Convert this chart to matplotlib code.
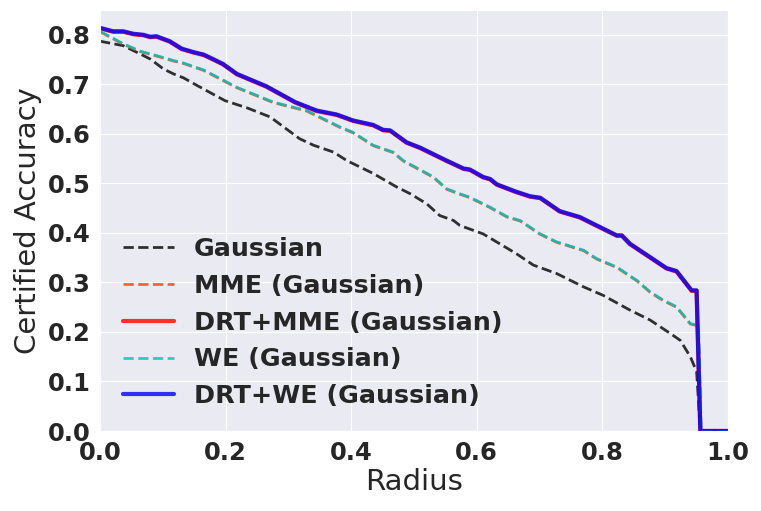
import matplotlib
matplotlib.use("Agg")
import matplotlib.pyplot as plt
import seaborn as sns

# Gaussian baseline
r_gauss = [0.0, 0.037, 0.058, 0.080, 0.101, 0.117, 0.133, 0.154, 0.199, 0.235, 0.271,
           0.318, 0.340, 0.372, 0.393, 0.435, 0.472, 0.494, 0.520, 0.541, 0.563,
           0.573, 0.610, 0.663, 0.690, 0.727, 0.770, 0.801, 0.844, 0.876, 0.908,
           0.924, 0.940, 0.950, 0.956, 1.0]
acc_gauss = [0.787, 0.778, 0.765, 0.751, 0.731, 0.721, 0.713, 0.698, 0.667, 0.652, 0.634,
             0.590, 0.577, 0.563, 0.546, 0.520, 0.493, 0.479, 0.459, 0.435, 0.425,
             0.415, 0.398, 0.358, 0.335, 0.318, 0.291, 0.274, 0.244, 0.224, 0.197,
             0.183, 0.150, 0.120, 0.0, 0.0]

# MME / WE (MME is hidden under WE in the figure)
r_we = [0.0, 0.037, 0.064, 0.090, 0.117, 0.133, 0.165, 0.218, 0.276, 0.329,
        0.382, 0.403, 0.435, 0.467, 0.483, 0.531, 0.552, 0.573, 0.589, 0.621,
        0.648, 0.669, 0.701, 0.727, 0.770, 0.791, 0.823, 0.855, 0.876, 0.897,
        0.918, 0.940, 0.953, 0.957, 1.0]
acc_we = [0.807, 0.782, 0.767, 0.758, 0.748, 0.743, 0.729, 0.694, 0.664, 0.647,
          0.614, 0.603, 0.577, 0.563, 0.546, 0.513, 0.489, 0.479, 0.472, 0.452,
          0.433, 0.425, 0.398, 0.382, 0.365, 0.348, 0.331, 0.304, 0.281, 0.264,
          0.251, 0.217, 0.213, 0.0, 0.0]
acc_mme = [0.806, 0.781, 0.766, 0.757, 0.747, 0.742, 0.728, 0.693, 0.663, 0.646,
           0.613, 0.602, 0.576, 0.562, 0.545, 0.512, 0.488, 0.478, 0.471, 0.451,
           0.432, 0.424, 0.397, 0.381, 0.364, 0.347, 0.330, 0.303, 0.280, 0.263,
           0.250, 0.216, 0.212, 0.0, 0.0]

# DRT+MME / DRT+WE (DRT+MME hidden under DRT+WE)
r_drt = [0.0, 0.021, 0.037, 0.053, 0.069, 0.080, 0.090, 0.111, 0.130, 0.149,
         0.165, 0.180, 0.196, 0.218, 0.265, 0.311, 0.345, 0.377, 0.403, 0.435,
         0.451, 0.462, 0.488, 0.510, 0.552, 0.579, 0.589, 0.610, 0.621, 0.632,
         0.663, 0.685, 0.701, 0.732, 0.764, 0.791, 0.823, 0.831, 0.844, 0.876,
         0.902, 0.918, 0.942, 0.950, 0.956, 1.0]
acc_drt_we = [0.814, 0.807, 0.807, 0.802, 0.800, 0.796, 0.797, 0.787, 0.772, 0.765,
              0.760, 0.751, 0.741, 0.721, 0.696, 0.664, 0.647, 0.639, 0.627, 0.618,
              0.608, 0.607, 0.583, 0.572, 0.546, 0.530, 0.528, 0.513, 0.509, 0.498,
              0.483, 0.474, 0.471, 0.444, 0.432, 0.415, 0.395, 0.395, 0.378, 0.351,
              0.329, 0.323, 0.284, 0.284, 0.0, 0.0]
acc_drt_mme = [0.813, 0.806, 0.806, 0.801, 0.799, 0.795, 0.796, 0.786, 0.771, 0.764,
               0.759, 0.750, 0.740, 0.720, 0.695, 0.663, 0.646, 0.638, 0.626, 0.617,
               0.607, 0.606, 0.582, 0.571, 0.545, 0.529, 0.527, 0.512, 0.508, 0.497,
               0.482, 0.473, 0.470, 0.443, 0.431, 0.414, 0.394, 0.394, 0.377, 0.350,
               0.328, 0.322, 0.283, 0.283, 0.0, 0.0]

sns.set_style("darkgrid")
plt.rcParams['font.family'] = ['DejaVu Sans']

fig = plt.figure(figsize=(7.61, 5.11), dpi=100)
fig.subplots_adjust(left=100/761, right=728/761, bottom=1-431/511, top=1-10/511)
ax = fig.add_subplot(111)

ax.plot(r_gauss, acc_gauss, 'k--', lw=2, alpha=0.8, label='Gaussian')
ax.plot(r_we, acc_mme, '--', color='orangered', lw=2, alpha=0.8, label='MME (Gaussian)')
ax.plot(r_drt, acc_drt_mme, '-', color='red', lw=3, alpha=0.8, label='DRT+MME (Gaussian)')
ax.plot(r_we, acc_we, '--', color='c', lw=2, alpha=0.8, label='WE (Gaussian)')
ax.plot(r_drt, acc_drt_we, '-', color='blue', lw=3, alpha=0.8, label='DRT+WE (Gaussian)')

ax.set_xlim(0, 1.0)
ax.set_ylim(0, 0.85)
ax.set_yticks([0.0, 0.1, 0.2, 0.3, 0.4, 0.5, 0.6, 0.7, 0.8])
for lab in ax.get_xticklabels() + ax.get_yticklabels():
    lab.set_fontweight('bold')
    lab.set_fontsize(17.5)
ax.set_xlabel('Radius', fontsize=21, labelpad=2)
ax.set_ylabel('Certified Accuracy', fontsize=21, labelpad=4)
ax.legend(loc='lower left', frameon=False, prop={'weight': 'bold', 'size': 18.3})

fig.savefig('out.png', dpi=100)
